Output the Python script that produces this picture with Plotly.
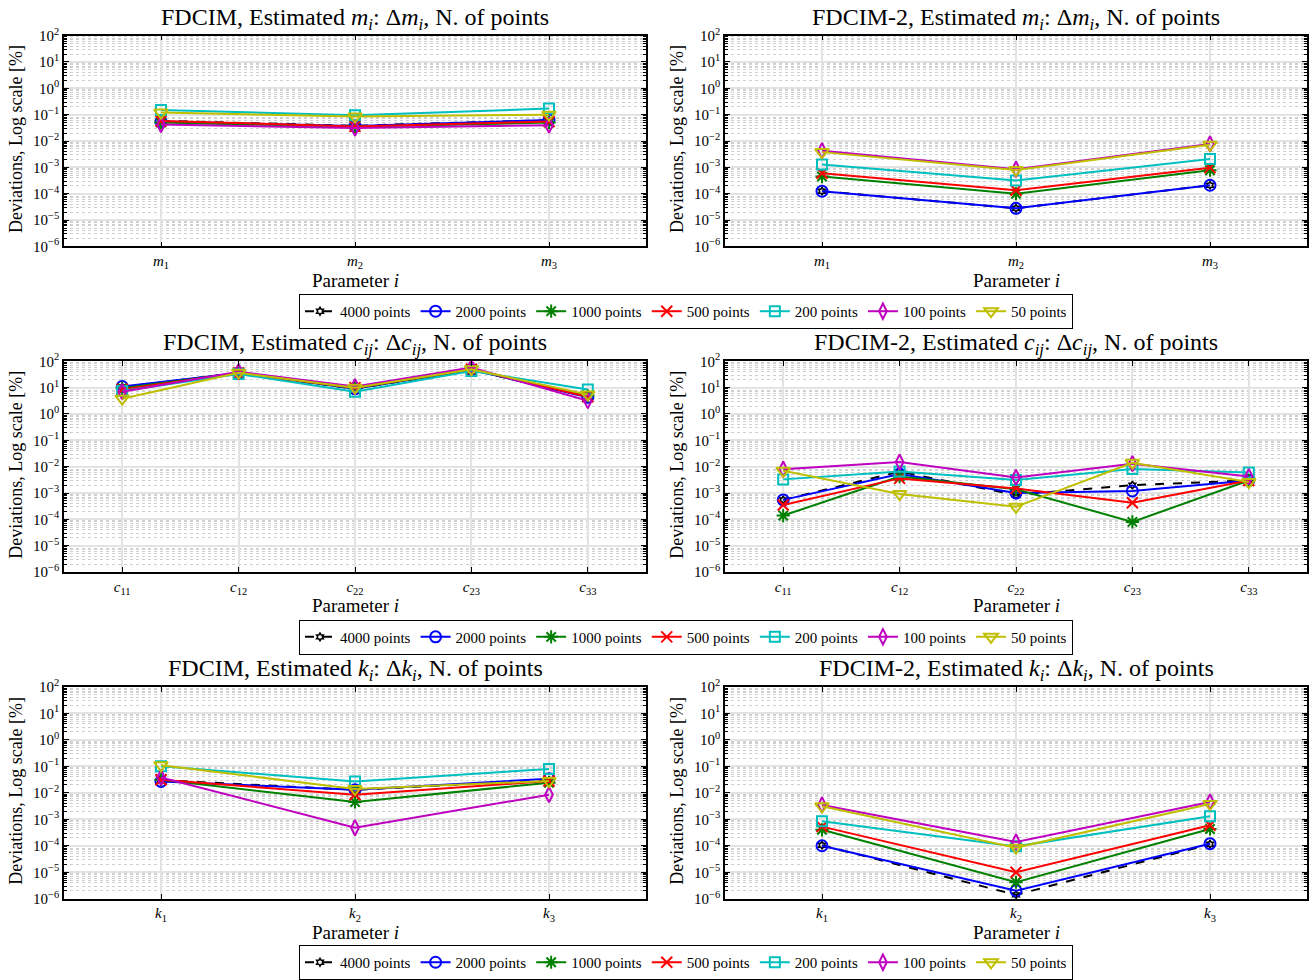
import plotly.graph_objects as go

# ---------------- data ----------------
series_names = ["4000 points", "2000 points", "1000 points", "500 points",
                "200 points", "100 points", "50 points"]

labels_m = ["<i>m</i><sub>1</sub>", "<i>m</i><sub>2</sub>", "<i>m</i><sub>3</sub>"]
labels_c = ["<i>c</i><sub>11</sub>", "<i>c</i><sub>12</sub>", "<i>c</i><sub>22</sub>",
            "<i>c</i><sub>23</sub>", "<i>c</i><sub>33</sub>"]
labels_k = ["<i>k</i><sub>1</sub>", "<i>k</i><sub>2</sub>", "<i>k</i><sub>3</sub>"]

y_tick_values = [1e-6, 1e-5, 1e-4, 1e-3, 1e-2, 1e-1, 1e0, 1e1, 1e2]
y_tick_labels = ["10<sup>−6</sup>", "10<sup>−5</sup>", "10<sup>−4</sup>", "10<sup>−3</sup>",
                 "10<sup>−2</sup>", "10<sup>−1</sup>", "10<sup>0</sup>", "10<sup>1</sup>",
                 "10<sup>2</sup>"]

fdcim_m = [
    [0.058, 0.038, 0.062],
    [0.055, 0.037, 0.063],
    [0.050, 0.035, 0.050],
    [0.058, 0.036, 0.055],
    [0.150, 0.095, 0.170],
    [0.042, 0.031, 0.040],
    [0.120, 0.085, 0.100],
]
fdcim2_m = [
    [1.25e-4, 2.8e-5, 2.1e-4],
    [1.25e-4, 2.8e-5, 2.1e-4],
    [4.5e-4, 1.0e-4, 7.8e-4],
    [6.0e-4, 1.35e-4, 9.8e-4],
    [1.3e-3, 3.2e-4, 2.1e-3],
    [4.3e-3, 8.5e-4, 7.8e-3],
    [3.8e-3, 8.0e-4, 7.2e-3],
]
fdcim_c = [
    [10.5, 36, 9.0, 48, 4.5],
    [11.0, 36, 9.0, 48, 4.3],
    [9.5, 36, 9.5, 48, 5.0],
    [8.5, 36, 10.0, 50, 4.5],
    [7.5, 33, 7.0, 43, 8.5],
    [7.0, 40, 11.0, 58, 3.2],
    [3.8, 37, 10.0, 50, 5.5],
]
fdcim2_c = [
    [5.5e-4, 6.5e-3, 8.5e-4, 2.0e-3, 3.0e-3],
    [5.5e-4, 5.3e-3, 1.0e-3, 1.2e-3, 3.0e-3],
    [1.4e-4, 4.2e-3, 1.4e-3, 8.0e-5, 3.0e-3],
    [3.5e-4, 3.6e-3, 1.5e-3, 4.3e-4, 3.0e-3],
    [3.3e-3, 6.5e-3, 3.1e-3, 8.2e-3, 6.0e-3],
    [8.0e-3, 1.5e-2, 3.9e-3, 1.3e-2, 4.2e-3],
    [7.0e-3, 9.2e-4, 3.0e-4, 1.4e-2, 2.6e-3],
]
fdcim_k = [
    [0.030, 0.013, 0.030],
    [0.027, 0.013, 0.034],
    [0.031, 0.0045, 0.024],
    [0.031, 0.0085, 0.028],
    [0.100, 0.027, 0.080],
    [0.038, 4.8e-4, 8.5e-3],
    [0.110, 0.014, 0.028],
]
fdcim2_k = [
    [1.05e-4, 1.4e-6, 1.15e-4],
    [1.0e-4, 2.0e-6, 1.2e-4],
    [4.0e-4, 4.2e-6, 4.3e-4],
    [5.3e-4, 1.0e-5, 6.0e-4],
    [8.5e-4, 9.5e-5, 1.3e-3],
    [3.5e-3, 1.4e-4, 4.5e-3],
    [3.1e-3, 8.5e-5, 3.8e-3],
]

# ---------------- styles ----------------
colors = ["#000000", "#0000FF", "#008000", "#FF0000", "#00BFBF", "#BF00BF", "#BFBF00"]
symbols = ["hexagram-open", "circle-open", "asterisk-open", "x-thin-open",
           "square-open", "diamond-tall-open", "triangle-down-open"]
sizes = [6, 11, 11, 11, 10, 11, 12]
mlw = [1.5, 2, 2, 2, 2, 2, 2]
dashes = ["dash", "solid", "solid", "solid", "solid", "solid", "solid"]

FONT = "Liberation Serif"
W, H = 1314, 980

# subplot geometry in pixels
cols_px = [(64, 646), (725, 1307)]
rows_px = [(36, 249), (365, 578), (694, 908)]

panels = [
    (0, 0, fdcim_m, labels_m, "FDCIM, Estimated <i>m<sub>i</sub></i>: Δ<i>m<sub>i</sub></i>, N. of points"),
    (0, 1, fdcim2_m, labels_m, "FDCIM-2, Estimated <i>m<sub>i</sub></i>: Δ<i>m<sub>i</sub></i>, N. of points"),
    (1, 0, fdcim_c, labels_c, "FDCIM, Estimated <i>c<sub>ij</sub></i>: Δ<i>c<sub>ij</sub></i>, N. of points"),
    (1, 1, fdcim2_c, labels_c, "FDCIM-2, Estimated <i>c<sub>ij</sub></i>: Δ<i>c<sub>ij</sub></i>, N. of points"),
    (2, 0, fdcim_k, labels_k, "FDCIM, Estimated <i>k<sub>i</sub></i>: Δ<i>k<sub>i</sub></i>, N. of points"),
    (2, 1, fdcim2_k, labels_k, "FDCIM-2, Estimated <i>k<sub>i</sub></i>: Δ<i>k<sub>i</sub></i>, N. of points"),
]

fig = go.Figure()
annotations = []
layout_axes = {}
legend_names = ["legend", "legend2", "legend3"]

for idx, (r, c, data, labels, title) in enumerate(panels):
    n = idx + 1
    xa = "x" if n == 1 else f"x{n}"
    ya = "y" if n == 1 else f"y{n}"
    xkey = "xaxis" if n == 1 else f"xaxis{n}"
    ykey = "yaxis" if n == 1 else f"yaxis{n}"
    x0, x1 = cols_px[c]
    y0, y1 = rows_px[r]
    xs = list(range(1, len(labels) + 1))
    for s in range(len(series_names)):
        fig.add_trace(go.Scatter(
            x=xs, y=data[s], xaxis=xa, yaxis=ya,
            mode="lines+markers", name=series_names[s],
            line=dict(color=colors[s], width=2, dash=dashes[s]),
            marker=dict(symbol=symbols[s], size=sizes[s], color=colors[s],
                        line=dict(color=colors[s], width=mlw[s])),
            legend=legend_names[r], showlegend=(c == 0),
        ))
    layout_axes[xkey] = dict(
        domain=[x0 / W, x1 / W], anchor=ya, range=[0.5, len(labels) + 0.5],
        tickmode="array", tickvals=xs, ticktext=labels,
        ticks="inside", ticklen=5, tickcolor="black", mirror="allticks",
        showline=True, linecolor="black", linewidth=1.5,
        showgrid=True, gridcolor="#e3e3e3", gridwidth=1.5, zeroline=False,
        tickfont=dict(family=FONT, size=15, color="black"), automargin=False,
    )
    layout_axes[ykey] = dict(
        domain=[1 - y1 / H, 1 - y0 / H], anchor=xa, type="log", range=[-6, 2],
        tickmode="array", tickvals=y_tick_values, ticktext=y_tick_labels,
        ticks="inside", ticklen=5, tickcolor="black", mirror="allticks",
        showline=True, linecolor="black", linewidth=1.5,
        showgrid=True, gridcolor="#e3e3e3", gridwidth=1.5, zeroline=False,
        minor=dict(dtick="D1", ticks="inside", ticklen=3, tickcolor="black",
                   showgrid=True, gridcolor="#d0d0d0", griddash="dot", gridwidth=1),
        tickfont=dict(family=FONT, size=15, color="black"), automargin=False,
    )
    cx = (x0 + x1) / 2 / W
    annotations.append(dict(text=title, x=cx, y=1 - (y0 - 17) / H, xref="paper", yref="paper",
                            xanchor="center", yanchor="middle", showarrow=False,
                            font=dict(family=FONT, size=24, color="black")))
    annotations.append(dict(text="Parameter <i>i</i>", x=cx, y=1 - (y1 + 34) / H,
                            xref="paper", yref="paper", xanchor="center", yanchor="middle",
                            showarrow=False, font=dict(family=FONT, size=19, color="black")))
    annotations.append(dict(text="Deviations, Log scale [%]", x=(x0 - 48) / W,
                            y=1 - ((y0 + y1) / 2 - 2) / H, xref="paper", yref="paper",
                            xanchor="center", yanchor="middle", textangle=-90, showarrow=False,
                            font=dict(family=FONT, size=18, color="black")))

legend_tops = [297, 626, 955]
legends = {}
for i, name in enumerate(legend_names):
    legends[name] = dict(
        orientation="h", x=686 / W, xanchor="center", y=1 - legend_tops[i] / H, yanchor="top",
        bordercolor="black", borderwidth=1, bgcolor="white",
        font=dict(family=FONT, size=15, color="black"),
        itemwidth=30, tracegroupgap=0,
    )

fig.update_layout(
    width=W, height=H, margin=dict(l=0, r=0, t=0, b=0),
    paper_bgcolor="white", plot_bgcolor="white",
    font=dict(family=FONT, color="black"),
    annotations=annotations, **layout_axes, **legends,
)

fig.write_html("out.html", config={"displayModeBar": False},
               post_script="document.body.style.margin='0px';document.body.style.overflow='hidden';")
